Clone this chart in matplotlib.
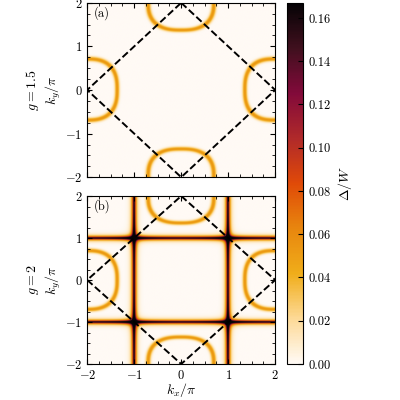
import numpy as np
import matplotlib
matplotlib.use("Agg")
import matplotlib.pyplot as plt
from matplotlib.colors import LinearSegmentedColormap

plt.rcParams['mathtext.fontset'] = 'cm'
plt.rcParams['font.family'] = ['cmr10', 'DejaVu Serif']
plt.rcParams['axes.formatter.use_mathtext'] = True
plt.rcParams['font.size'] = 9

# parameters of the gap map
g_values = ['1.5', '2']
panel_labels = ['(a)', '(b)']
pocket_centers = [(0, 2), (0, -2), (2, 0), (-2, 0)]
pocket_half_width = 0.7
pocket_depth = 0.64
pocket_amp = [0.055, 0.055]
line_amp = [0.0, 0.2]
cross_amp = [0.0, 0.25]
line_positions = [-1, 1]
vmin, vmax = 0.0, 0.167
xticks = [-2, -1, 0, 1, 2]
yticks = [-2, -1, 0, 1, 2]
cbar_ticks = [0.00, 0.02, 0.04, 0.06, 0.08, 0.10, 0.12, 0.14, 0.16]
diamond_x = [0, 2, 0, -2, 0]
diamond_y = [2, 0, -2, 0, 2]
cmap_colors = ['#fffaf5', '#fdd995', '#f0ad1a', '#e8860e', '#e04a08',
               '#b02a2a', '#820a3a', '#40101e', '#050305']

cmap = LinearSegmentedColormap.from_list('gap', cmap_colors)
k = np.linspace(-2, 2, 801)
KX, KY = np.meshgrid(k, k)

def gap(i):
    d = np.zeros_like(KX)
    for cx, cy in pocket_centers:
        if cx == 0:
            a, b = pocket_half_width, pocket_depth
        else:
            a, b = pocket_depth, pocket_half_width
        r = (np.abs((KX - cx) / a) ** 2.6 + np.abs((KY - cy) / b) ** 2.6) ** (1 / 2.6)
        d = np.maximum(d, pocket_amp[i] * np.exp(-((r - 1) / 0.075) ** 2))
    dx = np.min([np.abs(KX - p) for p in line_positions], axis=0)
    dy = np.min([np.abs(KY - p) for p in line_positions], axis=0)
    v = line_amp[i] * (np.exp(-dx / 0.034) + np.exp(-dy / 0.034))
    v += cross_amp[i] * np.exp(-np.sqrt(dx * dy) / 0.045) * np.exp(-(dx + dy) / 0.4)
    d = np.maximum(d, v)
    return d

fig = plt.figure(figsize=(4, 4), dpi=100)
axes = [fig.add_axes([0.218, 0.557, 0.47, 0.436]), fig.add_axes([0.218, 0.09, 0.47, 0.42])]
cax = fig.add_axes([0.718, 0.09, 0.04, 0.903])
for i, ax in enumerate(axes):
    im = ax.imshow(gap(i), extent=[-2, 2, -2, 2], origin='lower', cmap=cmap,
                   vmin=vmin, vmax=vmax, aspect='auto', interpolation='bilinear')
    ax.plot(diamond_x, diamond_y, 'k--', lw=1.4)
    ax.set_xlim(-2, 2); ax.set_ylim(-2, 2)
    ax.set_xticks(xticks); ax.set_yticks(yticks)
    ax.set_xticks(np.arange(-2, 2.01, 0.25), minor=True)
    ax.set_yticks(np.arange(-2, 2.01, 0.25), minor=True)
    ax.tick_params(which='both', direction='in', top=True, right=True)
    ax.text(-1.85, 1.68, panel_labels[i], fontsize=9)
    ax.set_ylabel('$g=%s$\n$k_y/\\pi$' % g_values[i], fontsize=10)
    ax.yaxis.set_label_coords(-0.13, 0.5)
    if i == 0:
        ax.set_xticklabels([])
axes[1].set_xlabel('$k_x/\\pi$', labelpad=-0.5, fontsize=10)
cb = fig.colorbar(im, cax=cax, ticks=cbar_ticks)
cb.ax.tick_params(direction='in')
cb.ax.set_yticklabels(['%.2f' % t for t in cbar_ticks])
cb.set_label('$\\Delta/W$', fontsize=10)
fig.savefig('out.png', dpi=100)
